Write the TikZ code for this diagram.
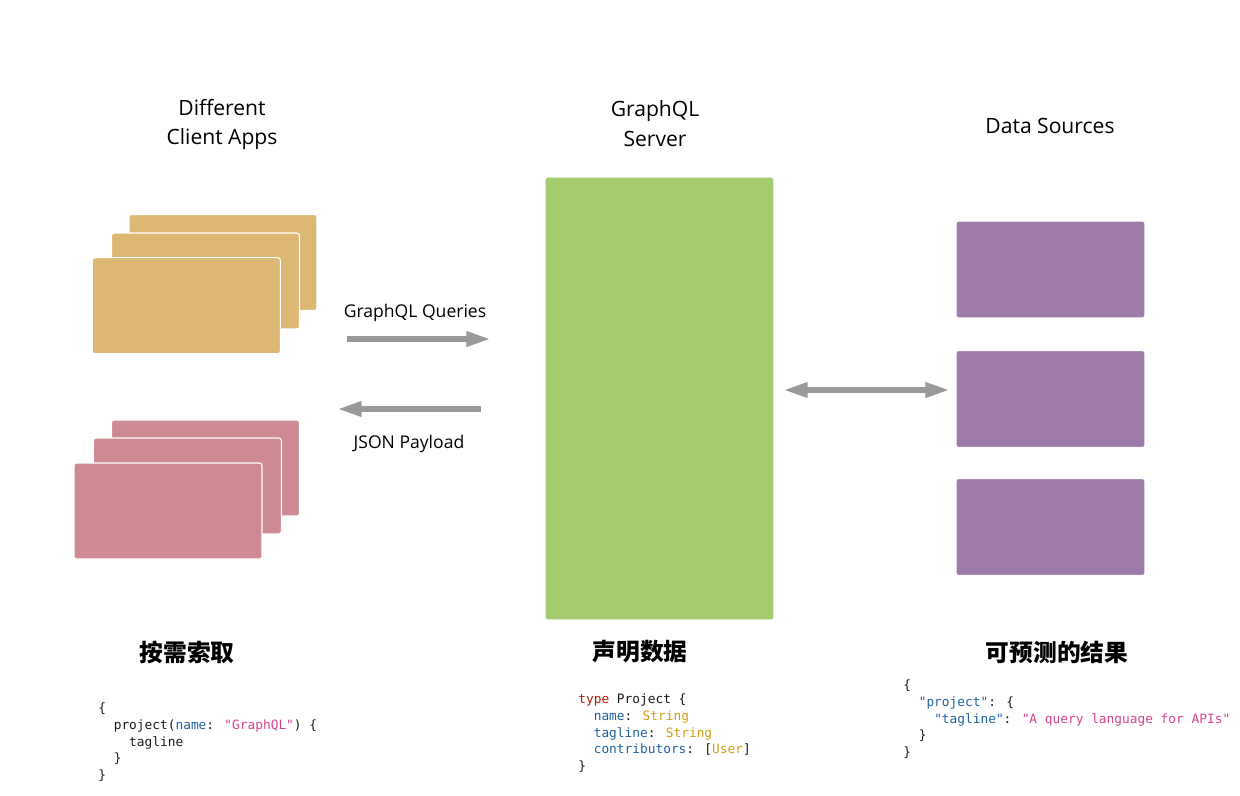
\documentclass[tikz,border=0pt]{standalone}
\usepackage{fontspec}
\setmainfont{Open Sans}
\newfontfamily\cjk{Noto Sans CJK SC}
\newfontfamily\codefont{DejaVu Sans Mono}
\usetikzlibrary{positioning, arrows.meta}

\definecolor{clientyellow}{HTML}{DCB874}
\definecolor{clientpink}{HTML}{CE8A93}
\definecolor{servergreen}{HTML}{A5CB6F}
\definecolor{sourcepurple}{HTML}{9F7BAB}
\definecolor{flowgray}{HTML}{999999}
\definecolor{codered}{HTML}{B11A04}
\definecolor{codeblue}{HTML}{1F61A0}
\definecolor{codepink}{HTML}{D64292}
\definecolor{codeyellow}{HTML}{D19C17}
\definecolor{codetext}{HTML}{1A1A1A}

\tikzset{
  card/.style={fill=#1, draw=white, line width=0.6pt, rounded corners=1.5pt,
    minimum width=3.76cm, minimum height=1.92cm, inner sep=0pt},
  srcbox/.style={fill=sourcepurple, draw=white, line width=0.6pt, rounded corners=1.5pt,
    minimum width=3.78cm, minimum height=1.94cm, inner sep=0pt},
  heading/.style={align=center, font=\fontsize{12}{17}\selectfont, text=black},
  flowlabel/.style={font=\fontsize{10}{12}\selectfont, text=black},
  cntitle/.style={font=\cjk\bfseries\fontsize{13.5}{16}\selectfont, text=black},
  code/.style={align=left, anchor=north west, inner sep=0pt, text=codetext,
    font=\codefont\fontsize{7.3}{9.65}\selectfont},
  flow/.style={draw=flowgray, line width=3.4pt,
    -{Triangle[length=14pt, width=8pt]}},
}

\begin{document}
\begin{tikzpicture}[x=0.02cm, y=-0.02cm]
\useasboundingbox (0,0) rectangle (1240,795);

% client apps
\node[heading] (clienthead) at (222,124.5) {Different\\Client Apps};
\node[card=clientyellow] (ya) at (223,262.5) {};
\node[card=clientyellow] (yb) at (205.5,281) {};
\node[card=clientyellow] (yc) at (186.3,305.7) {};
\node[card=clientpink] (pa) at (205.5,468) {};
\node[card=clientpink] (pb) at (187.3,486) {};
\node[card=clientpink] (pc) at (168,511) {};

% server
\node[heading] (serverhead) at (655,123.5) {GraphQL\\Server};
\node[fill=servergreen, draw=white, line width=0.6pt, rounded corners=1.5pt,
  minimum width=4.58cm, minimum height=8.86cm, inner sep=0pt] (server) at (659.5,398.5) {};

% data sources
\node[heading] (sourcehead) at (1050,125.5) {Data Sources};
\node[srcbox] (sa) at (1050.5,269.5) {};
\node[srcbox] (sb) at (1050.5,399) {};
\node[srcbox] (sc) at (1050.5,527) {};

% arrows
\coordinate (qstart) at (347,339);
\coordinate (qend) at (491,339);
\coordinate (jstart) at (481,409);
\coordinate (jend) at (337,409);
\coordinate (dleft) at (783,390);
\coordinate (dright) at (950,390);
\draw[flow] (qstart) -- (qend);
\draw[flow] (jstart) -- (jend);
\draw[flow, {Triangle[length=14pt, width=8pt]}-{Triangle[length=14pt, width=8pt]}] (dleft) -- (dright);
\node[flowlabel] (qlabel) at (415,312.5) {GraphQL Queries};
\node[flowlabel] (jlabel) at (409,443.5) {JSON Payload};

% bottom titles
\node[cntitle] (asktitle) at (187,652) {按需索取};
\node[cntitle] (typetitle) at (640,652) {声明数据};
\node[cntitle] (resulttitle) at (1057,652) {可预测的结果};

% code
\node[code] (querycode) at (98,702) {%
\{\\
\ \ project(\textcolor{codeblue}{name}: \textcolor{codepink}{"GraphQL"}) \{\\
\ \ \ \ tagline\\
\ \ \}\\
\}};
\node[code] (typecode) at (578,693) {%
\textcolor{codered}{type} Project \{\\
\ \ \textcolor{codeblue}{name}: \textcolor{codeyellow}{String}\\
\ \ \textcolor{codeblue}{tagline}: \textcolor{codeyellow}{String}\\
\ \ \textcolor{codeblue}{contributors}: [\textcolor{codeyellow}{User}]\\
\}};
\node[code] (resultcode) at (903,679) {%
\{\\
\ \ \textcolor{codeblue}{"project"}: \{\\
\ \ \ \ \textcolor{codeblue}{"tagline"}: \textcolor{codepink}{"A query language for APIs"}\\
\ \ \}\\
\}};
\end{tikzpicture}
\end{document}
